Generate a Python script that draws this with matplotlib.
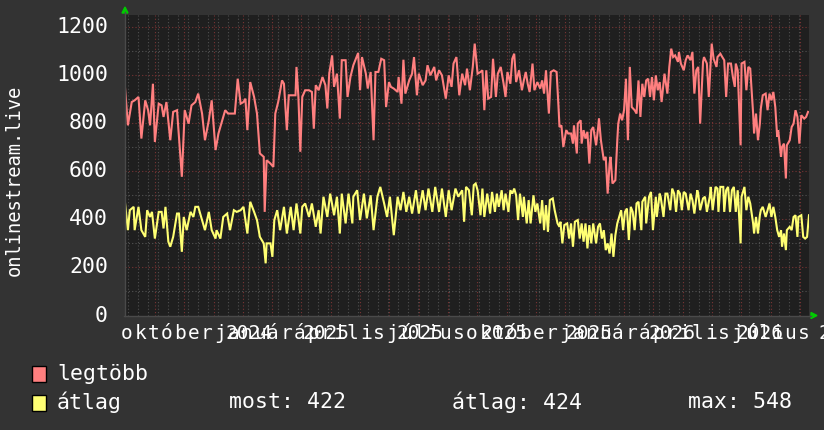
import matplotlib
matplotlib.use('Agg')
import matplotlib.pyplot as plt
import numpy as np

# legtöbb (max) series: day offset, value
red_day = [0, 3, 7, 10, 14, 17, 21, 24, 26, 29, 31, 35, 38, 40, 43, 47, 50, 54, 59, 62,
           66, 69, 73, 76, 80, 83, 87, 90, 94, 97, 100, 104, 107, 111, 114, 117, 120, 123, 125, 127,
           130, 134, 137, 140, 144, 145, 147, 151, 154, 156, 159, 163, 165, 168, 170, 173, 177, 178, 180, 182,
           184, 187, 191, 194, 196, 198, 201, 205, 208, 210, 212, 215, 217, 220, 223, 225, 229, 231, 234, 237,
           242, 244, 246, 250, 252, 255, 258, 260, 263, 266, 269, 271, 274, 276, 279, 283, 284, 287, 289, 291,
           295, 298, 300, 303, 305, 309, 312, 314, 317, 321, 323, 326, 329, 333, 336, 339, 341, 344, 347,
           350, 353, 355, 358, 361, 363, 366, 369, 371, 373, 375, 377, 380, 382, 385, 387, 390, 393, 395, 397,
           400, 402, 404, 406, 409, 412, 414, 416, 418, 420, 423, 425, 428, 431, 433, 435, 437, 439, 440, 442,
           445, 448, 450, 451, 453, 455, 458, 460, 463, 465, 466, 469, 470, 473, 474, 476, 478, 480, 482, 484,
           486, 489, 491, 492, 494, 497, 499, 501, 503, 504, 506, 509, 511, 512, 514, 516, 518, 520, 522, 524,
           526, 529, 531, 533, 535, 537, 539, 541, 543, 545, 547, 549, 551, 553, 555, 557, 560, 563, 565, 567,
           569, 571, 574, 575, 577, 580, 582, 584, 587, 589, 591, 593, 595, 597, 600, 601, 604, 606, 608, 609,
           611, 614, 615, 618, 620, 622, 624, 626, 629, 631, 633, 634, 636, 639, 640, 643, 645, 647, 649, 652,
           653, 655, 657, 659, 660, 662, 665, 667, 669, 671, 673, 675, 677, 678, 681, 682, 684, 686, 687, 690,
           692, 694, 696, 698, 700, 702, 705, 707, 709]
red_val = [948, 791, 888, 895, 909, 736, 895, 854, 791, 964, 722, 881, 874, 826, 888, 729, 847, 854, 577, 854,
           798, 874, 888, 923, 840, 729, 812, 895, 688, 757, 798, 854, 840, 840, 840, 985, 881, 888, 902, 771,
           971, 909, 840, 674, 660, 431, 646, 632, 618, 840, 888, 978, 964, 771, 916, 916, 916, 1034, 909, 681,
           909, 937, 937, 930, 777, 958, 937, 992, 958, 861, 1006, 1082, 951, 1006, 819, 1062, 1062, 909, 992, 1041,
           1092, 937, 1075, 1006, 944, 1013, 729, 1013, 1013, 1068, 1062, 867, 971, 951, 944, 930, 992, 881, 1064, 923,
           978, 1006, 1075, 916, 1006, 958, 978, 1041, 999, 1034, 978, 1020, 999, 902, 999, 951, 1048, 1075, 916,
           1006, 958, 1027, 937, 1034, 1131, 1006, 1013, 1020, 854, 1020, 902, 909, 1068, 909, 1006, 1034, 964, 909, 1013,
           964, 1068, 1089, 971, 1020, 937, 978, 1013, 964, 930, 1048, 937, 971, 944, 978, 923, 1020, 902, 840, 1013,
           1020, 1013, 867, 784, 791, 701, 771, 757, 757, 715, 791, 674, 798, 812, 715, 771, 736, 764, 632, 771,
           784, 708, 777, 819, 729, 646, 660, 507, 632, 660, 549, 563, 729, 798, 840, 812, 854, 985, 729, 1034,
           867, 854, 840, 978, 826, 964, 909, 978, 985, 909, 992, 895, 999, 937, 971, 888, 1006, 923, 1034, 1110,
           1075, 1082, 1055, 1096, 1048, 1020, 1062, 1082, 1062, 1096, 923, 1020, 1034, 798, 1055, 1075, 1048, 909, 1062, 1131,
           1068, 1034, 1075, 1089, 1075, 1062, 909, 1048, 1048, 992, 951, 1048, 1020, 708, 1048, 1055, 937, 1034, 1027, 840,
           757, 840, 729, 798, 861, 916, 923, 854, 923, 895, 930, 867, 743, 771, 660, 701, 715, 570, 708, 729,
           784, 798, 854, 826, 715, 833, 819, 826, 847]

# átlag (average) series
yel_day = [0, 3, 5, 9, 10, 14, 17, 21, 23, 26, 28, 31, 35, 38, 40, 42, 45, 47, 50, 54,
           56, 59, 61, 64, 68, 71, 73, 76, 80, 83, 87, 90, 94, 95, 99, 102, 106, 109, 113, 116,
           120, 123, 127, 130, 134, 137, 140, 144, 146, 147, 151, 153, 155, 158, 161, 165, 168, 172, 175, 178,
           182, 184, 187, 191, 194, 198, 201, 203, 206, 210, 213, 217, 220, 223, 225, 229, 232, 236, 237, 241,
           244, 248, 251, 255, 258, 262, 265, 269, 272, 275, 279, 283, 286, 289, 292, 295, 298, 302, 305, 309,
           312, 315, 319, 322, 326, 329, 333, 336, 339, 343, 346,
           350, 352, 354, 357, 360, 362, 364, 366, 369, 371, 373, 376, 379, 381, 384, 386, 388, 391, 393, 395,
           398, 400, 402, 404, 406, 408, 410, 413, 414, 417, 419, 421, 424, 426, 428, 431, 433, 435, 437, 439,
           441, 444, 446, 449, 451, 452, 454, 456, 459, 461, 463, 465, 467, 470, 472, 474, 476, 478, 480, 482,
           484, 486, 489, 491, 493, 495, 497, 499, 501, 503, 505, 507, 509, 511, 513, 515, 517, 519, 521, 523,
           525, 527, 529, 531, 533, 536, 537, 540, 541, 544, 546, 548, 551, 552, 555, 556, 559, 561, 563, 566,
           568, 570, 572, 574, 576, 578, 580, 582, 585, 587, 589, 591, 594, 595, 597, 600, 602, 604, 607, 608,
           610, 613, 615, 616, 618, 621, 622, 624, 626, 628, 630, 632, 634, 636, 639, 640, 643, 645, 647, 649,
           652, 653, 655, 657, 659, 660, 662, 665, 667, 669, 671, 673, 675, 677, 679, 681, 682, 684, 686, 687,
           690, 692, 694, 696, 698, 699, 702, 704, 706, 708, 710]
yel_val = [469, 355, 438, 452, 355, 452, 355, 327, 438, 410, 431, 320, 431, 431, 362, 452, 307, 286, 327, 424,
           424, 265, 410, 355, 431, 410, 452, 452, 397, 355, 431, 355, 320, 355, 320, 410, 424, 355, 438, 431,
           438, 452, 341, 473, 431, 397, 327, 300, 217, 300, 300, 244, 397, 438, 355, 452, 341, 452, 355, 466,
           341, 452, 466, 410, 466, 369, 438, 341, 494, 410, 507, 417, 494, 341, 507, 383, 507, 383, 494, 521,
           397, 507, 404, 500, 355, 494, 535, 466, 410, 494, 334, 494, 438, 514, 431, 494, 424, 521, 424, 521,
           438, 528, 431, 535, 431, 528, 410, 521, 438, 528, 494,
           521, 390, 535, 521, 417, 542, 549, 521, 417, 528, 410, 507, 424, 514, 431, 507, 452, 521, 438, 507,
           431, 521, 507, 528, 500, 397, 507, 410, 494, 383, 480, 383, 500, 431, 466, 383, 480, 355, 459, 348,
           480, 487, 438, 383, 369, 390, 300, 376, 383, 320, 383, 286, 390, 397, 320, 383, 307, 383, 279, 376,
           300, 383, 300, 369, 383, 320, 355, 272, 300, 258, 341, 244, 334, 383, 410, 438, 355, 431, 445, 314,
           452, 431, 355, 466, 473, 355, 473, 494, 383, 494, 514, 355, 494, 410, 507, 494, 410, 507, 507, 438,
           528, 507, 431, 521, 507, 438, 514, 507, 438, 507, 480, 424, 521, 507, 438, 487, 494, 431, 494, 535,
           438, 535, 528, 431, 535, 535, 431, 521, 535, 431, 521, 535, 431, 521, 300, 494, 535, 438, 494, 466,
           383, 341, 410, 341, 417, 438, 452, 410, 438, 466, 410, 452, 410, 355, 327, 355, 286, 341, 272, 355,
           369, 355, 410, 417, 327, 410, 417, 327, 320, 327, 417]

y_ticks = [0, 200, 400, 600, 800, 1000, 1200]
months = ['október', 'január', 'április', 'július', 'október', 'január', 'április', 'július']
years = ['2024', '2025', '2025', '2025', '2025', '2026', '2026', '2026']
legend_names = ['legtöbb', 'átlag']
stats = ['most: 422', 'átlag: 424', 'max: 548']

W, H = 824, 430
MONO = 'DejaVu Sans Mono'
BG = '#333333'
RED = '#ff7f7f'
YEL = '#ffff73'


def fx(x):
    return x / W


def fy(y):
    return 1 - y / H


fig = plt.figure(figsize=(W / 100, H / 100), dpi=100)
fig.patch.set_facecolor(BG)
ax = fig.add_axes([fx(125), fy(315.5), 684 / W, 300.5 / H])
ax.set_facecolor('#1f1f1f')
ax.set_xlim(0, 710)
ax.set_ylim(0, 1250)
for s in ax.spines.values():
    s.set_visible(False)
ax.set_xticks([])
ax.set_yticks([])

# grid: minor every 100 / ~10 days, major every 200 / month
for v in range(100, 1250, 100):
    major = v % 200 == 0
    ax.axhline(v, color='#7a3434' if major else '#555555', lw=0.8,
               ls=(0, (1, 2)), zorder=1)
for d in np.arange(3, 710, 10.4):
    ax.axvline(d, color='#4f4f4f', lw=0.8, ls=(0, (1, 2)), zorder=1)
for d in np.arange(31, 710, 30.44):
    ax.axvline(d, color='#7a3434', lw=0.8, ls=(0, (1, 2)), zorder=1)

ax.plot(red_day, red_val, color=RED, lw=1.5, zorder=3, solid_joinstyle='miter')
ax.plot(yel_day, yel_val, color=YEL, lw=1.5, zorder=3, solid_joinstyle='miter')

# axes lines and arrows
fig.add_artist(plt.Line2D([fx(125), fx(125)], [fy(316), fy(12)], color='#4a4a4a', lw=1))
fig.add_artist(plt.Line2D([fx(124), fx(811)], [fy(315.5), fy(315.5)], color='#4a4a4a', lw=1))
fig.add_artist(plt.Polygon([[fx(122), fy(13)], [fx(128), fy(13)], [fx(125), fy(7)]],
                           closed=True, color='#00cc00'))
fig.add_artist(plt.Polygon([[fx(811), fy(312.5)], [fx(811), fy(318.5)], [fx(817), fy(315.5)]],
                           closed=True, color='#00cc00'))

# y tick labels
for v in y_ticks:
    ypx = 315.5 - v * 300.5 / 1250
    fig.text(fx(108), fy(ypx), str(v), ha='right', va='center', color='white',
             family=MONO, fontsize=15.5)

fig.text(fx(14), fy(180), 'onlinestream.live', rotation=90, ha='center', va='center',
         color='white', family=MONO, fontsize=13.5)

# month labels, letter by letter
k = 0
for m in months:
    for ch in m:
        fig.text(fx(121 + 13.27 * k + 6), fy(339), ch, ha='center', va='baseline',
                 color='white', family=MONO, fontsize=14)
        k += 1

year_centres = [249, 326, 420, 504, 589, 672, 760, 842]
for yr, xc in zip(years, year_centres):
    fig.text(fx(xc), fy(339), yr, ha='center', va='baseline', color='white',
             family=MONO, fontsize=14)

# legend
for i, (name, col) in enumerate(zip(legend_names, [RED, YEL])):
    ytop = 366 + 28.5 * i
    fig.add_artist(plt.Rectangle((fx(32), fy(ytop + 16)), 14 / W, 16 / H,
                                 facecolor=col, edgecolor='black', lw=1))
    fig.text(fx(57), fy(ytop + 8), name, ha='left', va='center', color='white',
             family=MONO, fontsize=15.5)

for txt, xl in zip(stats, [229, 452, 688]):
    fig.text(fx(xl), fy(402.5), txt, ha='left', va='center', color='white',
             family=MONO, fontsize=15.5)

fig.savefig('out.png', dpi=100, facecolor=BG)
